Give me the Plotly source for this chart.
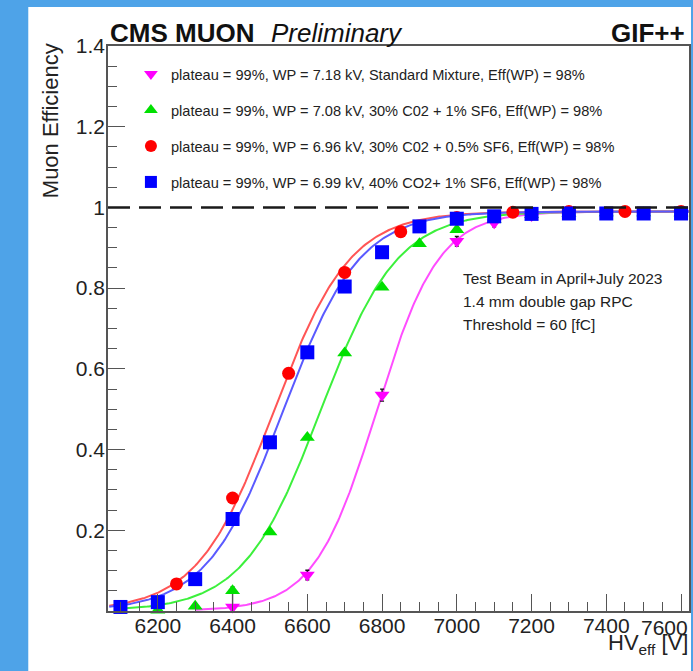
import numpy as np
import plotly.graph_objects as go

# ---------------- data ----------------
hv_std = [6400, 6600, 6800, 7000, 7100, 7200, 7300, 7400, 7500, 7600]
eff_std = [0.010, 0.089, 0.535, 0.916, 0.962, 0.980, 0.985, 0.985, 0.985, 0.985]
err_std = [0.050, 0.012, 0.015, 0.012, 0.010, 0.008, 0.006, 0.006, 0.006, 0.006]

hv_co2_1 = [6200, 6300, 6400, 6500, 6600, 6700, 6800, 6900, 7000, 7100, 7200, 7300, 7400, 7500, 7600]
eff_co2_1 = [0.002, 0.012, 0.050, 0.196, 0.430, 0.639, 0.802, 0.910, 0.945, 0.970, 0.982, 0.985, 0.986, 0.986, 0.986]

hv_co2_05 = [6100, 6250, 6400, 6550, 6700, 6850, 7000, 7150, 7300, 7450, 7600]
eff_co2_05 = [0.010, 0.067, 0.280, 0.589, 0.839, 0.940, 0.975, 0.988, 0.990, 0.990, 0.990]

hv_co2_40 = [6100, 6200, 6300, 6400, 6500, 6600, 6700, 6800, 6900, 7000, 7100, 7200, 7300, 7400, 7500, 7600]
eff_co2_40 = [0.010, 0.022, 0.079, 0.228, 0.418, 0.641, 0.804, 0.889, 0.953, 0.972, 0.978, 0.984, 0.985, 0.985, 0.985, 0.985]

series_names = [
    "plateau = 99%, WP = 7.18 kV, Standard Mixture, Eff(WP) = 98%",
    "plateau = 99%, WP = 7.08 kV, 30% C02 + 1% SF6, Eff(WP) = 98%",
    "plateau = 99%, WP = 6.96 kV, 30% C02 + 0.5% SF6, Eff(WP) = 98%",
    "plateau = 99%, WP = 6.99 kV, 40% CO2+ 1% SF6, Eff(WP) = 98%",
]

# sigmoid fit parameters: plateau, HV50 [V], lambda [1/V], fit range start [V]
fit_plateau = [0.99, 0.99, 0.99, 0.99]
fit_hv50 = [6785, 6635, 6510, 6535]
fit_lambda = [0.0120, 0.0097, 0.0098, 0.0098]
fit_start = [6300, 6090, 6070, 6070]
fit_end = 7650

x_tick_vals = [6200, 6400, 6600, 6800, 7000, 7200, 7400, 7600]
x_tick_text = ["6200", "6400", "6600", "6800", "7000", "7200", "7400", "7600"]
y_tick_vals = [0.2, 0.4, 0.6, 0.8, 1.0, 1.2, 1.4]
y_tick_text = ["0.2", "0.4", "0.6", "0.8", "1", "1.2", "1.4"]

info_lines = ["Test Beam in April+July 2023", "1.4 mm double gap RPC", "Threshold = 60 [fC]"]

# ---------------- style ----------------
FONT = "Liberation Sans, Arial, Helvetica, sans-serif"
BLUE_BG = "#4ea3e8"
marker_colors = ["#ff00ff", "#00e000", "#ff0000", "#0000ff"]
line_colors = ["#ff4dff", "#3cf03c", "#ff5555", "#5a5aff"]
symbols = ["triangle-down", "triangle-up", "circle", "square"]
msizes = [13, 13, 13, 14]

W, H = 693, 671
ML, MR, MT, MB = 108, 2, 46, 60
PW = W - ML - MR
PH = H - MT - MB


def px_x(p):
    return (p - ML) / PW


def px_y(p):
    return (H - MB - p) / PH


fig = go.Figure()

data_x = [hv_std, hv_co2_1, hv_co2_05, hv_co2_40]
data_y = [eff_std, eff_co2_1, eff_co2_05, eff_co2_40]

# fit curves
for i in range(4):
    xs = np.linspace(fit_start[i], fit_end, 400)
    ys = fit_plateau[i] / (1.0 + np.exp(-fit_lambda[i] * (xs - fit_hv50[i])))
    fig.add_trace(go.Scatter(x=xs, y=ys, mode="lines", showlegend=False,
                             line=dict(color=line_colors[i], width=2), hoverinfo="skip"))

# data points
for i in range(4):
    kw = {}
    if i == 0:
        kw["error_y"] = dict(type="data", array=err_std, color="#111111", thickness=1.3, width=2)
    fig.add_trace(go.Scatter(x=data_x[i], y=data_y[i], mode="markers", name=series_names[i],
                             legendgroup=f"g{i}",
                             marker=dict(symbol=symbols[i], size=msizes[i], color=marker_colors[i],
                                         line=dict(width=0)),
                             cliponaxis=False, **kw))

shapes = [
    # white panel over blue background
    dict(type="rect", xref="paper", yref="paper", x0=px_x(28), x1=px_x(693), y0=-0.2, y1=px_y(7),
         fillcolor="white", line=dict(width=0), layer="below"),
    # dashed line at efficiency = 1
    dict(type="line", xref="paper", yref="y", x0=0, x1=1, y0=1.0, y1=1.0,
         line=dict(color="#1a1a1a", width=2.5, dash="22px,9px"), layer="above"),
]

annotations = [
    dict(text="<b>CMS MUON</b>", x=px_x(108), y=px_y(33), xref="paper", yref="paper",
         xanchor="left", yanchor="middle", showarrow=False,
         font=dict(family=FONT, size=26, color="#111")),
    dict(text="<i>Preliminary</i>", x=px_x(270), y=px_y(33), xref="paper", yref="paper",
         xanchor="left", yanchor="middle", showarrow=False,
         font=dict(family=FONT, size=26, color="#111")),
    dict(text="<b>GIF++</b>", x=px_x(689), y=px_y(33), xref="paper", yref="paper",
         xanchor="right", yanchor="middle", showarrow=False,
         font=dict(family=FONT, size=26, color="#111")),
    dict(text="Muon Efficiency", x=px_x(51), y=px_y(121), xref="paper", yref="paper",
         xanchor="center", yanchor="middle", textangle=-90, showarrow=False,
         font=dict(family=FONT, size=22, color="#222")),
    dict(text="HV<sub>eff</sub> [V]", x=px_x(692), y=px_y(644), xref="paper", yref="paper",
         xanchor="right", yanchor="middle", showarrow=False,
         font=dict(family=FONT, size=22, color="#222")),
    # last x tick label: kept inside the picture (the reference crops it at the edge)
    dict(text=x_tick_text[-1], x=x_tick_vals[-1], xref="x", y=px_y(627), yref="paper",
         xanchor="right", xshift=9, yanchor="middle", showarrow=False,
         font=dict(family=FONT, size=21, color="#222")),
]
for k, (t, yy) in enumerate(zip(info_lines, [278, 301, 324])):
    annotations.append(dict(text=t, x=px_x(462), y=px_y(yy), xref="paper", yref="paper",
                            xanchor="left", yanchor="middle", showarrow=False,
                            font=dict(family=FONT, size=15.5, color="#222")))

fig.update_layout(
    width=W, height=H, autosize=False,
    margin=dict(l=ML, r=MR, t=MT, b=MB, pad=0),
    paper_bgcolor=BLUE_BG,
    plot_bgcolor="rgba(0,0,0,0)",
    showlegend=True,
    legend=dict(x=px_x(131), y=px_y(58), xanchor="left", yanchor="top",
                bgcolor="rgba(0,0,0,0)", borderwidth=0, itemsizing="constant",
                tracegroupgap=14, font=dict(family=FONT, size=14.6, color="#222"),
                traceorder="grouped"),
    shapes=shapes,
    annotations=annotations,
    font=dict(family=FONT, color="#222"),
)

fig.update_xaxes(range=[6066.7, 7621.3], showgrid=False, zeroline=False,
                 showline=True, mirror=True, linecolor="#555", linewidth=1.5,
                 ticks="inside", ticklen=17, tickwidth=1.4, tickcolor="#555",
                 tickmode="array", tickvals=x_tick_vals,
                 ticktext=x_tick_text[:-1] + [""],
                 ticklabelstandoff=-5,
                 tickfont=dict(family=FONT, size=21, color="#222"),
                 minor=dict(dtick=50, tick0=6000, ticks="inside", ticklen=9,
                            tickwidth=1.2, tickcolor="#555", showgrid=False))
fig.update_yaxes(range=[0, 1.4], showgrid=False, zeroline=False,
                 showline=True, mirror=True, linecolor="#555", linewidth=1.5,
                 ticks="inside", ticklen=17, tickwidth=1.4, tickcolor="#555",
                 tickmode="array", tickvals=y_tick_vals, ticktext=y_tick_text,
                 ticklabelstandoff=-3,
                 tickfont=dict(family=FONT, size=21, color="#222"),
                 minor=dict(dtick=0.05, tick0=0, ticks="inside", ticklen=9,
                            tickwidth=1.2, tickcolor="#555", showgrid=False))

post = ("document.documentElement.style.overflow='hidden';"
        "document.body.style.margin='0px';"
        "document.body.style.padding='0px';"
        "document.body.style.overflow='hidden';"
        "document.body.style.background='" + BLUE_BG + "';")
fig.write_html("out.html", post_script=post, config={"displayModeBar": False})
